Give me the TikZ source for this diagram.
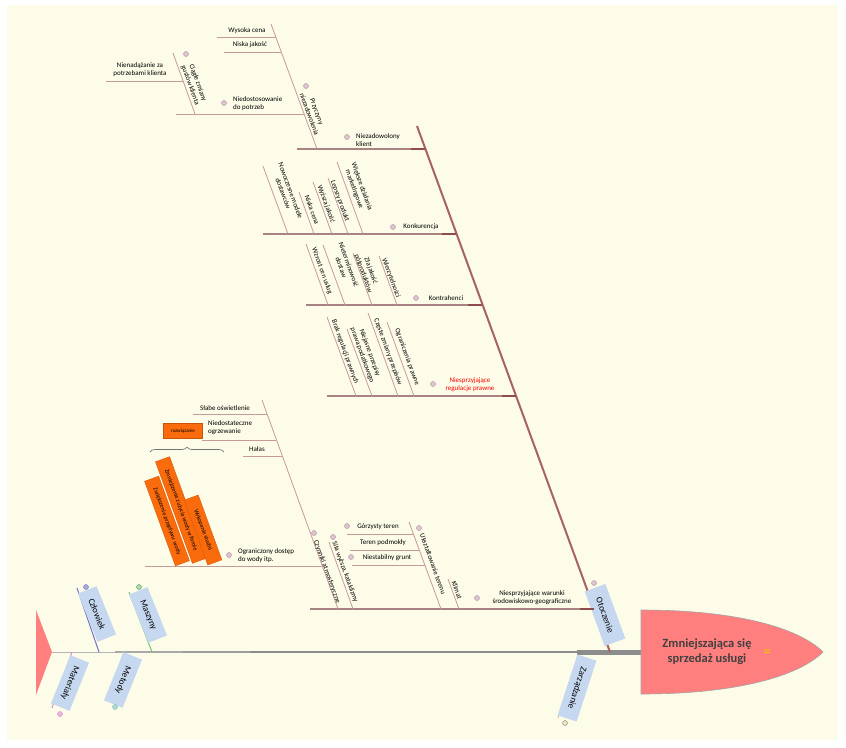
\documentclass[tikz,border=0pt]{standalone}
\usepackage{fontspec}
\setmainfont{Carlito}
\usetikzlibrary{decorations.pathreplacing}
\definecolor{paper}{HTML}{FDFCE9}
\definecolor{bonecol}{HTML}{A86262}
\definecolor{knotcol}{HTML}{8E4C4C}
\definecolor{twigcol}{HTML}{C79A9A}
\definecolor{knobfill}{HTML}{DCC6D2}
\definecolor{knobline}{HTML}{B08898}
\definecolor{catblue}{HTML}{C6D8F0}
\definecolor{headred}{HTML}{FF7F7F}
\definecolor{fixorange}{HTML}{F96B0C}
\definecolor{spinecol}{HTML}{8C8C8C}
\definecolor{manblue}{HTML}{7272C4}
\definecolor{machgreen}{HTML}{74C274}
\definecolor{matpink}{HTML}{D88AC8}
\definecolor{methteal}{HTML}{72C2B2}
\definecolor{mgmtyellow}{HTML}{D6C878}
\definecolor{eqyellow}{HTML}{F6B81A}

\begin{document}
\begin{tikzpicture}[x=1pt, y=-1pt,
  lbl/.style={font=\fontsize{7}{8}\selectfont, inner sep=1pt, align=center},
  rlbl/.style={lbl, rotate=-70},
  twig/.style={draw=twigcol, line width=0.8pt},
  branch/.style={draw=twigcol!85!black, line width=1.2pt},
  knot/.style={draw=knotcol, line width=2pt},
  knob/.style={circle, draw=knobline, fill=knobfill, inner sep=0pt, minimum size=5pt},
  category/.style={fill=catblue, font=\fontsize{9}{10}\selectfont, minimum width=52pt, minimum height=20pt, inner sep=1pt},
  fixbox/.style={fill=fixorange, draw=fixorange!85!black, font=\fontsize{6}{7}\selectfont, inner sep=1pt, minimum height=15pt, rotate=-70}]

\fill[white] (0,0) rectangle (846,747);
\fill[paper] (7,5) rectangle (838,740);

% spine and head
\coordinate (tail) at (52,652);
\coordinate (sp1) at (115,652);
\coordinate (sp2) at (183,652);
\coordinate (sp3) at (250,652);
\coordinate (sp4) at (577,652);
\coordinate (neck) at (641,652);
\draw[spinecol!65, line width=1pt] (tail) -- (sp1);
\draw[spinecol!75, line width=1.3pt] (sp1) -- (sp2);
\draw[spinecol!85, line width=1.6pt] (sp2) -- (sp3);
\draw[spinecol, line width=2pt] (sp3) -- (sp4);
\draw[spinecol, line width=5pt] (sp4) -- (neck);
\fill[headred] (36,610) -- (52,652) -- (36,695) -- cycle;
\filldraw[fill=headred, draw=spinecol!80, line width=0.6pt] (641,610) -- (641,694) .. controls (740,694) and (800,675) .. (823,652) .. controls (800,629) and (740,610) .. (641,610) -- cycle;
\node[font=\bfseries\fontsize{12.5}{15}\selectfont, text=black!75, align=center] (problem) at (707,652) {Zmniejszająca się\\sprzedaż usługi};
\node[font=\bfseries\fontsize{15}{15}\selectfont, text=eqyellow, inner sep=0pt] (eq) at (767,653) {=};

% small categories
\coordinate (c1a) at (77,588); \coordinate (c1b) at (99,652);
\coordinate (c2a) at (129,592); \coordinate (c2b) at (152,652);
\coordinate (c3a) at (72,652); \coordinate (c3b) at (52,708);
\coordinate (c4a) at (124,652); \coordinate (c4b) at (107,700);
\coordinate (c5a) at (579,655); \coordinate (c5b) at (558,718);
\draw[manblue, line width=1pt] (c1a) -- (c1b);
\draw[machgreen, line width=1pt] (c2a) -- (c2b);
\draw[matpink, line width=1pt] (c3a) -- (c3b);
\draw[methteal, line width=1pt] (c4a) -- (c4b);
\draw[mgmtyellow, line width=1pt] (c5a) -- (c5b);
\node[category, rotate=-68] (czlowiek) at (97,614) {Człowiek};
\node[category, rotate=-68] (maszyny) at (148,615) {Maszyny};
\node[category, rotate=-112] (materialy) at (70,683) {Materiały};
\node[category, rotate=-112] (metody) at (123,680) {Metody};
\node[category, rotate=-108, minimum width=64pt] (zarzadzanie) at (577,688) {Zarządzanie};
\node[knob, fill=manblue!60, draw=manblue] at (86,587) {};
\node[knob, fill=machgreen!60, draw=machgreen!80!black] at (139,587) {};
\node[knob, fill=matpink!60, draw=matpink] at (60,714) {};
\node[knob, fill=methteal!60, draw=methteal] at (115,707) {};
\node[knob, fill=mgmtyellow!50, draw=black!50] at (565,723) {};

% otoczenie
\coordinate (ot) at (417,126);
\coordinate (otend) at (610,652);
\draw[bonecol, line width=2pt] (ot) -- (otend);
\node[category, rotate=-70, minimum width=58pt, minimum height=22pt] (otoczenie) at (605,615) {Otoczenie};
\node[knob] at (594,583) {};

% niezadowolony klient
\coordinate (nk) at (297,149); \coordinate (nkj) at (425,149);
\draw[branch] (nk) -- (nkj);
\draw[knot] (411,149) -- (nkj);
\coordinate (pn) at (271,24); \coordinate (pnj) at (317,149);
\draw[twig] (pn) -- (pnj);
\draw[twig] (217,37) -- (276,37);
\draw[twig] (224,52) -- (281,52);
\draw[twig] (176,114) -- (304,114);
\coordinate (cz) at (173,53); \coordinate (czj) at (195,114);
\draw[twig] (cz) -- (czj);
\draw[twig] (106,81) -- (183,81);
\node[lbl] (wysoka) at (247,31) {Wysoka cena};
\node[lbl] (niska) at (250,45) {Niska jakość};
\node[lbl, anchor=west, align=left] (niedost) at (232,104) {Niedostosowanie\\do potrzeb};
\node[knob] at (224,103) {};
\node[rlbl] (ciagle) at (194,84) {Ciągłe zmiany\\gustów klienta};
\node[knob] at (186,54) {};
\node[lbl] (nienad) at (140,70) {Nienadążanie za\\potrzebami klienta};
\node[rlbl] (przyczyny) at (313,113) {Przyczyny\\niezadowolenia};
\node[knob] at (306,86) {};
\node[lbl, anchor=west, align=left] (niezad) at (355,140) {Niezadowolony\\klient};
\node[knob] at (347,137) {};

% konkurencja
\coordinate (ko) at (263,234); \coordinate (koj) at (456,234);
\draw[branch] (ko) -- (koj);
\draw[knot] (442,234) -- (koj);
\draw[twig] (263,166) -- (288,234);
\draw[twig] (299,192) -- (314,234);
\draw[twig] (313,182) -- (332,234);
\draw[twig] (328,178) -- (348,234);
\draw[twig] (337,162) -- (363,234);
\node[rlbl] (modele) at (287,192) {Nowoczesne modele\\dostawców};
\node[rlbl] (cena) at (312,210) {Niska cena};
\node[rlbl] (jakosc) at (326,204) {Wyższa jakość};
\node[rlbl] (produkt) at (340,201) {Lepszy produkt};
\node[rlbl] (marketing) at (358,188) {Większe działania\\marketingowe};
\node[lbl] (konkurencja) at (421,227) {Konkurencja};
\node[knob] at (393,227) {};

% kontrahenci
\coordinate (kn) at (306,305); \coordinate (knj) at (482,305);
\draw[branch] (kn) -- (knj);
\draw[knot] (468,305) -- (knj);
\draw[twig] (306,244) -- (328,305);
\draw[twig] (323,245) -- (345,305);
\draw[twig] (353,253) -- (372,305);
\draw[twig] (379,256) -- (397,305);
\node[rlbl] (ceny) at (322,271) {Wzrost cen usług};
\node[rlbl] (termin) at (345,266) {Nieterminowość\\dostaw};
\node[rlbl] (polprod) at (367,272) {Zła jakość\\półproduktów};
\node[rlbl] (wierzyt) at (391,278) {Wierzytelności};
\node[lbl] (kontrahenci) at (446,298) {Kontrahenci};
\node[knob] at (416,298) {};

% regulacje prawne
\coordinate (rp) at (327,396); \coordinate (rpj) at (516,396);
\draw[branch] (rp) -- (rpj);
\draw[knot] (502,396) -- (rpj);
\draw[twig] (327,317) -- (356,396);
\draw[twig] (347,329) -- (372,396);
\draw[twig] (368,313) -- (398,396);
\draw[twig] (387,322) -- (414,396);
\node[rlbl] (brak) at (345,352) {Brak regulacji prawnych};
\node[rlbl] (niejasne) at (366,354) {Niejasne przepisy\\prawa podatkowego};
\node[rlbl] (zmiany) at (388,352) {Częste zmiany przepisów};
\node[rlbl] (ogran) at (407,357) {Ograniczenia prawne};
\node[lbl, text=red] (regulacje) at (470,385) {Niesprzyjające\\regulacje prawne};
\node[knob] at (433,384) {};

% warunki srodowiskowo-geograficzne
\coordinate (wg) at (310,609); \coordinate (wgj) at (594,609);
\draw[branch] (wg) -- (wgj);
\draw[knot] (580,609) -- (wgj);
\coordinate (ca) at (262,400); \coordinate (caj) at (338,609);
\draw[twig] (ca) -- (caj);
\draw[twig] (193,414) -- (267,414);
\draw[twig] (202,440) -- (276,440);
\draw[twig] (243,456) -- (282,456);
\draw[twig] (145,566) -- (322,566);
\draw[twig] (329,542) -- (353,609);
\coordinate (ut) at (409,522); \coordinate (utj) at (441,609);
\draw[twig] (ut) -- (utj);
\draw[twig] (347,534) -- (413,534);
\draw[twig] (350,550) -- (419,550);
\draw[twig] (352,565) -- (425,565);
\draw[twig] (448,579) -- (459,609);
\node[lbl] (oswietl) at (225,408) {Słabe oświetlenie};
\node[lbl, anchor=west, align=left] (ogrzew) at (207,428) {Niedostateczne\\ogrzewanie};
\node[lbl] (halas) at (257,449) {Hałas};
\node[lbl, anchor=west, align=left] (woda) at (237,556) {Ograniczony dostęp\\do wody itp.};
\node[knob] at (229,555) {};
\node[rlbl] (atmosf) at (327,572) {Czynniki atmosferyczne};
\node[knob] at (314,533) {};
\node[rlbl] (sily) at (345,572) {Siła wyższa, kataklizmy};
\node[knob] at (333,537) {};
\node[rlbl] (uksztalt) at (433,564) {Ukształtowanie terenu};
\node[knob] at (419,528) {};
\node[lbl] (gorzysty) at (378,527) {Górzysty teren};
\node[knob] at (347,526) {};
\node[lbl] (podmokly) at (383,543) {Teren podmokły};
\node[lbl] (grunt) at (387,558) {Niestabilny grunt};
\node[knob] at (351,557) {};
\node[rlbl] (klimat) at (457,590) {Klimat};
\node[lbl] (warunki) at (532,598) {Niesprzyjające warunki\\środowiskowo-geograficzne};
\node[knob] at (477,598) {};

% rozwiazania
\node[fill=fixorange, draw=fixorange!80!black, font=\fontsize{5}{6}\selectfont, minimum width=39pt, minimum height=15pt, inner sep=0pt] (rozw) at (183,431) {rozwiązanie};
\draw[black!55, line width=0.7pt, decorate, decoration={brace, amplitude=5pt}] (150,452) -- (224,452);
\node[fixbox, minimum width=90pt] (przeplyw) at (167,521) {Zwiększenie przepływu wody};
\node[fixbox, minimum width=108pt] (zuzycie) at (181,510) {Zmniejszenie zużycia wody w firmie};
\node[fixbox, minimum width=69pt] (studnia) at (203,530) {Wykopanie studni};
\end{tikzpicture}
\end{document}
